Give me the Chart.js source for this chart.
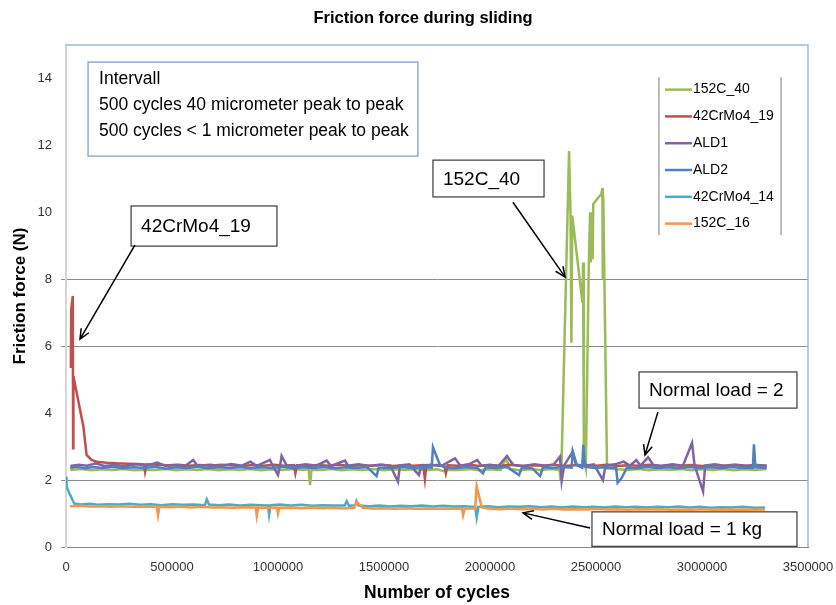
<!DOCTYPE html>
<html>
<head>
<meta charset="utf-8">
<title>Friction force during sliding</title>
<script src="https://cdn.jsdelivr.net/npm/chart.js@4.4.1/dist/chart.umd.min.js"></script>
<style>
  html, body { margin: 0; padding: 0; background: #fff; }
</style>
</head>
<body>
<canvas id="chart" width="836" height="605"></canvas>
<script>
// series: [cycles, friction force (N)]
const c152_40 = [
  [20000, 2.3], [70000, 2.33], [120000, 2.29], [170000, 2.32], [220000, 2.3], [270000, 2.33],
  [320000, 2.29], [370000, 2.31], [420000, 2.3], [470000, 2.33], [520000, 2.29], [570000, 2.32],
  [620000, 2.3], [670000, 2.33], [720000, 2.29], [770000, 2.32], [820000, 2.3], [870000, 2.33],
  [920000, 2.29], [970000, 2.32], [1020000, 2.3], [1070000, 2.33], [1120000, 2.3], [1145000, 2.32],
  [1151000, 1.85], [1158000, 2.31], [1200000, 2.3], [1250000, 2.33], [1300000, 2.29], [1350000, 2.32],
  [1400000, 2.3], [1450000, 2.33], [1500000, 2.29], [1550000, 2.32], [1600000, 2.3], [1650000, 2.33],
  [1700000, 2.29], [1750000, 2.32], [1790000, 2.25], [1800000, 2.31], [1850000, 2.3], [1900000, 2.33],
  [1950000, 2.29], [2000000, 2.32], [2050000, 2.3], [2075000, 2.65], [2095000, 2.33], [2140000, 2.29],
  [2190000, 2.32], [2240000, 2.3], [2290000, 2.33], [2328000, 2.3], [2333000, 2.0], [2337000, 2.35],
  [2373000, 11.83], [2380000, 9.9], [2384000, 6.1], [2388000, 9.9], [2436000, 7.3], [2439000, 8.5],
  [2443000, 2.6], [2452000, 2.35], [2466000, 8.4], [2472000, 10.0], [2475000, 8.5], [2480000, 9.9],
  [2484000, 8.6], [2487000, 10.25], [2525000, 10.55], [2530000, 10.73], [2532000, 8.0], [2534000, 10.5],
  [2552000, 2.35], [2600000, 2.32], [2650000, 2.3], [2700000, 2.33], [2750000, 2.29], [2800000, 2.32],
  [2850000, 2.3], [2900000, 2.33], [2950000, 2.29], [3000000, 2.32], [3050000, 2.3], [3100000, 2.33],
  [3150000, 2.29], [3200000, 2.32], [3250000, 2.3], [3305000, 2.33]
];

const cr42_19 = [
  [23000, 5.35], [24500, 7.1], [32000, 7.5], [33500, 2.95], [35000, 5.1], [82000, 3.6],
  [97000, 2.75], [120000, 2.6], [145000, 2.55], [190000, 2.52], [240000, 2.5], [290000, 2.49],
  [340000, 2.48], [368000, 2.47], [373000, 2.25], [380000, 2.47], [430000, 2.46], [480000, 2.44],
  [530000, 2.46], [580000, 2.43], [630000, 2.45], [680000, 2.43], [730000, 2.46], [780000, 2.44],
  [830000, 2.42], [880000, 2.45], [930000, 2.43], [980000, 2.46], [1030000, 2.43], [1075000, 2.45],
  [1082000, 2.2], [1090000, 2.44], [1140000, 2.42], [1190000, 2.45], [1240000, 2.43], [1290000, 2.46],
  [1340000, 2.42], [1390000, 2.44], [1440000, 2.43], [1490000, 2.46], [1540000, 2.42], [1590000, 2.44],
  [1640000, 2.43], [1685000, 2.45], [1693000, 2.03], [1700000, 2.43], [1750000, 2.45], [1785000, 2.42],
  [1792000, 2.2], [1800000, 2.44], [1850000, 2.43], [1900000, 2.46], [1950000, 2.42], [2000000, 2.44],
  [2050000, 2.43], [2100000, 2.46], [2150000, 2.42], [2200000, 2.44], [2250000, 2.43], [2300000, 2.46],
  [2350000, 2.42], [2400000, 2.44], [2450000, 2.45], [2500000, 2.43], [2550000, 2.46], [2600000, 2.42],
  [2650000, 2.44], [2700000, 2.43], [2750000, 2.46], [2800000, 2.42], [2850000, 2.44], [2900000, 2.43],
  [2950000, 2.45], [3000000, 2.42], [3050000, 2.44], [3100000, 2.43], [3150000, 2.46], [3200000, 2.42],
  [3250000, 2.44], [3305000, 2.43]
];

const ald1 = [
  [20000, 2.42], [60000, 2.46], [100000, 2.43], [140000, 2.5], [180000, 2.42], [230000, 2.45],
  [280000, 2.41], [330000, 2.47], [380000, 2.43], [430000, 2.52], [470000, 2.42], [520000, 2.45],
  [560000, 2.41], [600000, 2.6], [620000, 2.43], [680000, 2.46], [730000, 2.42], [780000, 2.48],
  [830000, 2.43], [870000, 2.55], [900000, 2.42], [962000, 2.6], [975000, 2.43], [1000000, 2.15],
  [1010000, 2.44], [1017000, 2.72], [1040000, 2.45], [1080000, 2.42], [1130000, 2.47], [1180000, 2.43],
  [1230000, 2.58], [1250000, 2.42], [1316000, 2.58], [1330000, 2.43], [1380000, 2.47], [1430000, 2.42],
  [1480000, 2.46], [1530000, 2.43], [1566000, 1.95], [1575000, 2.44], [1620000, 2.47], [1665000, 2.15],
  [1675000, 2.43], [1720000, 2.46], [1770000, 2.42], [1835000, 2.65], [1860000, 2.43], [1900000, 2.47],
  [1940000, 2.6], [1960000, 2.43], [2000000, 2.46], [2040000, 2.42], [2080000, 2.72], [2110000, 2.45],
  [2160000, 2.42], [2210000, 2.47], [2260000, 2.43], [2300000, 2.46], [2330000, 2.7], [2338000, 1.97],
  [2350000, 2.44], [2390000, 2.85], [2405000, 2.46], [2450000, 2.43], [2490000, 2.47], [2533000, 2.0],
  [2545000, 2.44], [2590000, 2.47], [2630000, 2.55], [2660000, 2.43], [2690000, 2.6], [2710000, 2.43],
  [2746000, 2.68], [2770000, 2.45], [2810000, 2.42], [2860000, 2.47], [2910000, 2.43], [2953000, 3.11],
  [2965000, 2.44], [3005000, 1.66], [3015000, 2.43], [3060000, 2.47], [3110000, 2.42], [3160000, 2.46],
  [3210000, 2.43], [3260000, 2.45], [3305000, 2.43]
];

const ald2 = [
  [20000, 2.36], [50000, 2.4], [90000, 2.35], [130000, 2.39], [170000, 2.36], [220000, 2.4],
  [270000, 2.35], [320000, 2.38], [370000, 2.36], [420000, 2.4], [470000, 2.34], [520000, 2.38],
  [570000, 2.36], [620000, 2.4], [670000, 2.35], [720000, 2.38], [770000, 2.36], [820000, 2.39],
  [870000, 2.35], [920000, 2.38], [970000, 2.36], [1020000, 2.4], [1070000, 2.35], [1120000, 2.38],
  [1170000, 2.36], [1220000, 2.39], [1270000, 2.35], [1320000, 2.38], [1370000, 2.36], [1420000, 2.39],
  [1465000, 2.12], [1475000, 2.37], [1530000, 2.35], [1580000, 2.39], [1630000, 2.36], [1680000, 2.38],
  [1725000, 2.37], [1731000, 2.98], [1764000, 2.45], [1790000, 2.37], [1840000, 2.35], [1890000, 2.39],
  [1940000, 2.36], [1967000, 2.2], [1980000, 2.38], [2030000, 2.36], [2080000, 2.39], [2137000, 2.15],
  [2150000, 2.37], [2200000, 2.35], [2236000, 2.12], [2250000, 2.38], [2300000, 2.36], [2340000, 2.39],
  [2385000, 2.37], [2390000, 2.86], [2410000, 2.45], [2435000, 2.37], [2440000, 3.05], [2448000, 2.4],
  [2490000, 2.36], [2540000, 2.38], [2595000, 2.36], [2602000, 1.92], [2620000, 2.05], [2646000, 2.37],
  [2690000, 2.35], [2740000, 2.39], [2790000, 2.36], [2840000, 2.38], [2890000, 2.35], [2940000, 2.39],
  [2990000, 2.36], [3040000, 2.38], [3090000, 2.35], [3140000, 2.39], [3190000, 2.36], [3240000, 2.37],
  [3245000, 3.07], [3252000, 2.38], [3305000, 2.36]
];

const cr42_14 = [
  [0, 2.1], [3000, 1.8], [20000, 1.55], [39000, 1.3], [70000, 1.27], [110000, 1.29],
  [150000, 1.26], [200000, 1.28], [250000, 1.27], [300000, 1.29], [350000, 1.26], [400000, 1.28],
  [450000, 1.25], [500000, 1.28], [550000, 1.26], [600000, 1.27], [655000, 1.25], [664000, 1.42],
  [675000, 1.27], [720000, 1.25], [770000, 1.27], [820000, 1.24], [870000, 1.26], [920000, 1.25],
  [953000, 1.24], [958000, 0.96], [965000, 1.25], [1010000, 1.27], [1060000, 1.24], [1110000, 1.26],
  [1160000, 1.23], [1210000, 1.25], [1260000, 1.24], [1315000, 1.24], [1324000, 1.37], [1335000, 1.23],
  [1365000, 1.25], [1370000, 1.37], [1380000, 1.24], [1430000, 1.22], [1480000, 1.24], [1530000, 1.21],
  [1580000, 1.23], [1630000, 1.22], [1680000, 1.24], [1730000, 1.21], [1780000, 1.23], [1830000, 1.21],
  [1880000, 1.22], [1930000, 1.2], [1937000, 0.88], [1945000, 1.2], [1990000, 1.22], [2040000, 1.19],
  [2090000, 1.21], [2140000, 1.2], [2190000, 1.22], [2240000, 1.19], [2290000, 1.21], [2340000, 1.18],
  [2390000, 1.21], [2440000, 1.19], [2490000, 1.2], [2540000, 1.18], [2590000, 1.21], [2640000, 1.19],
  [2690000, 1.2], [2740000, 1.18], [2790000, 1.2], [2840000, 1.19], [2890000, 1.21], [2940000, 1.18],
  [2990000, 1.2], [3040000, 1.17], [3090000, 1.19], [3140000, 1.18], [3190000, 1.2], [3250000, 1.17],
  [3297000, 1.18]
];

const c152_16 = [
  [19000, 1.22], [60000, 1.23], [110000, 1.21], [160000, 1.22], [210000, 1.2], [260000, 1.22],
  [310000, 1.2], [360000, 1.21], [428000, 1.2], [434000, 0.95], [440000, 1.2], [490000, 1.19],
  [540000, 1.21], [590000, 1.18], [640000, 1.2], [690000, 1.18], [740000, 1.19], [790000, 1.17],
  [840000, 1.19], [895000, 1.18], [900000, 0.93], [906000, 1.18], [960000, 1.17], [995000, 1.18],
  [1000000, 1.0], [1006000, 1.17], [1060000, 1.18], [1110000, 1.16], [1160000, 1.18], [1210000, 1.16],
  [1260000, 1.17], [1310000, 1.15], [1360000, 1.17], [1371000, 1.35], [1400000, 1.17], [1450000, 1.15],
  [1500000, 1.16], [1550000, 1.14], [1600000, 1.16], [1650000, 1.14], [1700000, 1.15], [1750000, 1.14],
  [1800000, 1.15], [1868000, 1.14], [1873000, 0.95], [1880000, 1.14], [1930000, 1.15], [1937000, 1.82],
  [1961000, 1.18], [2000000, 1.14], [2050000, 1.13], [2100000, 1.15], [2150000, 1.13], [2200000, 1.14],
  [2250000, 1.12], [2300000, 1.14], [2350000, 1.12], [2400000, 1.13], [2450000, 1.12], [2500000, 1.14],
  [2550000, 1.12], [2600000, 1.13], [2650000, 1.11], [2700000, 1.13], [2750000, 1.12], [2800000, 1.13],
  [2850000, 1.11], [2900000, 1.12], [2950000, 1.11], [3000000, 1.13], [3050000, 1.11], [3100000, 1.12],
  [3150000, 1.11], [3200000, 1.12], [3250000, 1.11], [3297000, 1.12]
];

const seriesNames = ['152C_40', '42CrMo4_19', 'ALD1', 'ALD2', '42CrMo4_14', '152C_16'];
const seriesData = [c152_40, cr42_19, ald1, ald2, cr42_14, c152_16];
const seriesColors = ['#9bbb59', '#c0504d', '#8064a2', '#4f81bd', '#4bacc6', '#f79646'];

const xTicks = [0, 500000, 1000000, 1500000, 2000000, 2500000, 3000000, 3500000];
const yTicks = [0, 2, 4, 6, 8, 10, 12, 14];
const yGridShown = [0, 2, 6, 8];

const chartTitle = 'Friction force during sliding';
const infoLines = ['Intervall', '500 cycles 40 micrometer peak to peak', '500 cycles < 1 micrometer peak to peak'];

// callouts in data space: box corners and arrow tail -> tip
const callouts = [
  { text: '42CrMo4_19', box: [307000, 10.19, 995000, 8.99], from: [325000, 9.02], to: [66000, 6.21] },
  { text: '152C_40', box: [1731000, 11.56, 2255000, 10.46], from: [2108000, 10.3], to: [2354000, 8.07] },
  { text: 'Normal load = 2', box: [2703000, 5.23, 3448000, 4.15], from: [2792000, 4.03], to: [2731000, 2.75] },
  { text: 'Normal load = 1 kg', box: [2481000, 1.05, 3448000, 0.02], from: [2472000, 0.57], to: [2156000, 1.02] }
];

const FONT = "'Liberation Sans', Arial, sans-serif";

function px(chart, x, y) {
  return [chart.scales.x.getPixelForValue(x), chart.scales.y.getPixelForValue(y)];
}

function drawArrow(ctx, x1, y1, x2, y2) {
  const ang = Math.atan2(y2 - y1, x2 - x1);
  const len = 11, spread = 0.42;
  ctx.beginPath();
  ctx.moveTo(x1, y1);
  ctx.lineTo(x2, y2);
  ctx.moveTo(x2 - len * Math.cos(ang - spread), y2 - len * Math.sin(ang - spread));
  ctx.lineTo(x2, y2);
  ctx.lineTo(x2 - len * Math.cos(ang + spread), y2 - len * Math.sin(ang + spread));
  ctx.stroke();
}

const decor = {
  id: 'decor',
  beforeDatasetsDraw(chart) {
    const { ctx, chartArea: a } = chart;
    ctx.save();
    ctx.strokeStyle = '#9cb9de';
    ctx.lineWidth = 1.5;
    ctx.beginPath();
    ctx.moveTo(a.left, a.top);
    ctx.lineTo(a.right, a.top);
    ctx.lineTo(a.right, a.bottom);
    ctx.stroke();
    ctx.restore();
  },
  afterDraw(chart) {
    const ctx = chart.ctx;
    ctx.save();

    // title, a little right of the canvas centre
    ctx.fillStyle = '#000';
    ctx.font = 'bold 16.5px ' + FONT;
    ctx.textAlign = 'center';
    ctx.textBaseline = 'middle';
    ctx.fillText(chartTitle, chart.width / 2 + 5, 18);
    ctx.textAlign = 'left';

    // info box, upper left
    const [ix1, iy1] = px(chart, 104000, 14.49);
    const [ix2, iy2] = px(chart, 1660000, 11.68);
    ctx.fillStyle = '#fff';
    ctx.fillRect(ix1, iy1, ix2 - ix1, iy2 - iy1);
    ctx.strokeStyle = '#7ea1cf';
    ctx.lineWidth = 1.3;
    ctx.strokeRect(ix1, iy1, ix2 - ix1, iy2 - iy1);
    ctx.fillStyle = '#000';
    ctx.font = '17.5px ' + FONT;
    infoLines.forEach((t, i) => ctx.fillText(t, ix1 + 11, iy1 + 17 + i * 26));

    // callout boxes with arrows
    callouts.forEach(c => {
      const [bx1, by1] = px(chart, c.box[0], c.box[1]);
      const [bx2, by2] = px(chart, c.box[2], c.box[3]);
      ctx.fillStyle = '#fff';
      ctx.fillRect(bx1, by1, bx2 - bx1, by2 - by1);
      ctx.strokeStyle = '#3a3a3a';
      ctx.lineWidth = 1.2;
      ctx.strokeRect(bx1, by1, bx2 - bx1, by2 - by1);
      ctx.fillStyle = '#000';
      ctx.font = '19px ' + FONT;
      ctx.fillText(c.text, bx1 + 10, (by1 + by2) / 2 + 1);
      const [ax1, ay1] = px(chart, c.from[0], c.from[1]);
      const [ax2, ay2] = px(chart, c.to[0], c.to[1]);
      ctx.strokeStyle = '#000';
      ctx.lineWidth = 1.5;
      drawArrow(ctx, ax1, ay1, ax2, ay2);
    });

    // legend
    const [lx1, ly1] = px(chart, 2797000, 14.04);
    const [lx2, ly2] = px(chart, 3373000, 9.32);
    ctx.strokeStyle = '#a6a6a6';
    ctx.lineWidth = 1.5;
    ctx.beginPath();
    ctx.moveTo(lx1, ly1); ctx.lineTo(lx1, ly2);
    ctx.moveTo(lx2, ly1); ctx.lineTo(lx2, ly2);
    ctx.stroke();
    ctx.font = '14px ' + FONT;
    seriesNames.forEach((name, i) => {
      const y = ly1 + 12.5 + i * 26.8;
      ctx.strokeStyle = seriesColors[i];
      ctx.lineWidth = 2.5;
      ctx.beginPath();
      ctx.moveTo(lx1 + 6, y);
      ctx.lineTo(lx1 + 33, y);
      ctx.stroke();
      ctx.fillStyle = '#000';
      ctx.fillText(name, lx1 + 34, y);
    });

    ctx.restore();
  }
};

const datasets = seriesNames.map((name, i) => ({
  label: name,
  data: seriesData[i].map(p => ({ x: p[0], y: p[1] })),
  borderColor: seriesColors[i],
  backgroundColor: seriesColors[i],
  borderWidth: 2.5,
  pointRadius: 0,
  tension: 0,
  fill: false,
  order: seriesNames.length - 1 - i
}));

new Chart(document.getElementById('chart'), {
  type: 'line',
  data: { datasets },
  options: {
    responsive: false,
    animation: false,
    events: [],
    layout: { padding: { left: 0, right: 28, top: 45, bottom: 0 } },
    plugins: {
      legend: { display: false },
      tooltip: { enabled: false },
      title: { display: false }
    },
    scales: {
      x: {
        type: 'linear',
        min: 0,
        max: 3500000,
        afterBuildTicks: s => { s.ticks = xTicks.map(v => ({ value: v })); },
        afterFit: s => { s.height = 58; s.paddingLeft = 0; s.paddingRight = 0; },
        grid: { display: false, drawTicks: false },
        border: { display: true, color: '#868686', width: 1 },
        ticks: {
          color: '#333',
          padding: 13,
          maxRotation: 0,
          font: { family: FONT, size: 13 },
          callback: v => String(v)
        },
        title: {
          display: true,
          text: 'Number of cycles',
          color: '#000',
          font: { family: FONT, size: 17.5, weight: 'bold' },
          padding: { top: 0, bottom: 1 }
        }
      },
      y: {
        min: 0,
        max: 15,
        afterBuildTicks: s => { s.ticks = yTicks.map(v => ({ value: v })); },
        afterFit: s => { s.width = 66; s.paddingTop = 0; s.paddingBottom = 0; },
        grid: {
          color: c => yGridShown.includes(c.tick && c.tick.value) ? '#8c8c8c' : 'rgba(0,0,0,0)',
          lineWidth: 1,
          drawTicks: true,
          tickLength: 5
        },
        border: { display: true, color: '#d6d6d6', width: 2 },
        ticks: {
          color: '#333',
          padding: 9,
          font: { family: FONT, size: 13 }
        },
        title: {
          display: true,
          text: 'Friction force (N)',
          color: '#000',
          font: { family: FONT, size: 17, weight: 'bold' },
          padding: { top: 10, bottom: 0 }
        }
      }
    }
  },
  plugins: [decor]
});
</script>
</body>
</html>
